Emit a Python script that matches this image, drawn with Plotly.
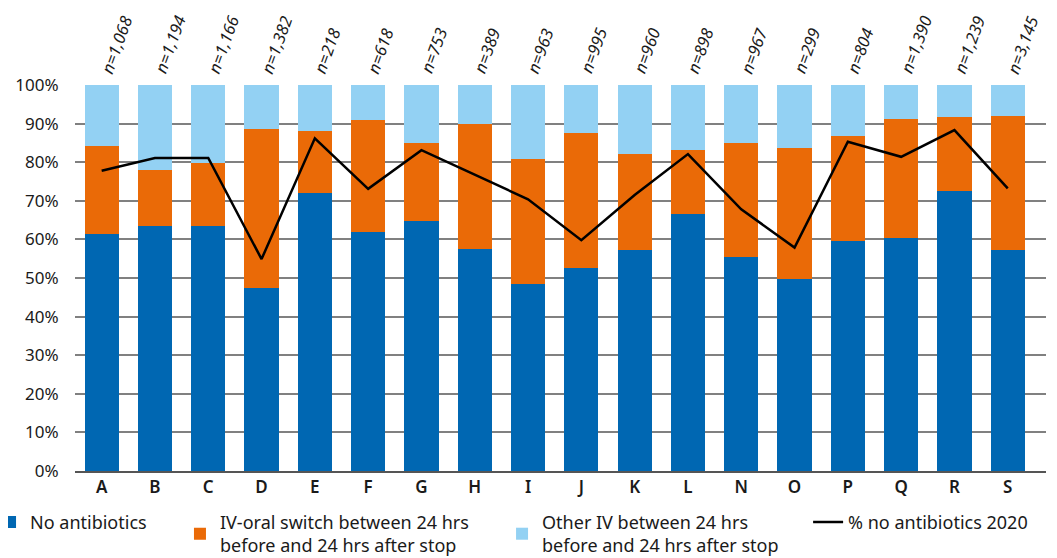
import plotly.graph_objects as go

categories = ["A", "B", "C", "D", "E", "F", "G", "H", "I", "J", "K", "L", "N", "O", "P", "Q", "R", "S"]
n_labels = ["n=1,068", "n=1,194", "n=1,166", "n=1,382", "n=218", "n=618", "n=753", "n=389", "n=963",
            "n=995", "n=960", "n=898", "n=967", "n=299", "n=804", "n=1,390", "n=1,239", "n=3,145"]
no_antibiotics = [61.4, 63.5, 63.5, 47.5, 72.1, 62.0, 64.8, 57.6, 48.4, 52.6, 57.3, 66.6, 55.4, 49.7, 59.6, 60.4, 72.5, 57.3]
iv_oral_switch = [22.8, 14.5, 16.3, 41.2, 16.0, 29.0, 20.2, 32.4, 32.4, 35.0, 24.8, 16.6, 29.6, 34.0, 27.2, 30.9, 19.3, 34.7]
other_iv = [15.8, 22.0, 20.2, 11.3, 11.9, 9.0, 15.0, 10.0, 19.2, 12.4, 17.9, 16.8, 15.0, 16.3, 13.2, 8.7, 8.2, 8.0]
no_abx_2020 = [77.8, 81.1, 81.1, 54.9, 86.2, 73.1, 83.1, 76.7, 70.4, 59.8, 71.5, 82.1, 67.8, 57.9, 85.3, 81.4, 88.3, 73.2]
y_ticks = [0, 10, 20, 30, 40, 50, 60, 70, 80, 90, 100]
y_tick_text = ["0%", "10%", "20%", "30%", "40%", "50%", "60%", "70%", "80%", "90%", "100%"]

FONT = "Noto Sans"
TXT = "#1a1a1a"

fig = go.Figure()
fig.add_trace(go.Bar(x=categories, y=no_antibiotics, name="No antibiotics", legend="legend",
                     marker=dict(color="#0067b2", line=dict(width=0))))
fig.add_trace(go.Bar(x=categories, y=iv_oral_switch, legend="legend2",
                     name="IV-oral switch between 24 hrs<br>before and 24 hrs after stop",
                     marker=dict(color="#ea6a07", line=dict(width=0))))
fig.add_trace(go.Bar(x=categories, y=other_iv, legend="legend3",
                     name="Other IV between 24 hrs<br>before and 24 hrs after stop",
                     marker=dict(color="#93d1f3", line=dict(width=0))))
fig.add_trace(go.Scatter(x=categories, y=no_abx_2020, mode="lines", name="% no antibiotics 2020",
                         legend="legend4", line=dict(color="black", width=2.5)))

for c, lab in zip(categories, n_labels):
    fig.add_annotation(x=c, y=1, xref="x", yref="paper", text=lab, showarrow=False,
                       textangle=-70, xanchor="left", yanchor="bottom", xshift=-9, yshift=6,
                       font=dict(family=FONT, size=16.5, color=TXT, style="italic"))

def leg(xpos):
    return dict(orientation="h", x=xpos, xanchor="left", y=-0.085, yanchor="top",
                font=dict(size=18, family=FONT, color=TXT), bgcolor="rgba(0,0,0,0)")

fig.update_layout(
    barmode="stack",
    bargap=0.36,
    width=1049, height=550,
    margin=dict(l=67, r=11, t=77, b=87, autoexpand=False),
    plot_bgcolor="white", paper_bgcolor="white",
    font=dict(family=FONT, color=TXT),
    showlegend=True,
    legend=leg(-0.0875),
    legend2=leg(0.1081),
    legend3=leg(0.4398),
    legend4=leg(0.755),
    xaxis=dict(tickfont=dict(size=17, family=FONT, color=TXT, weight=600),
               showline=True, linecolor="#555", linewidth=1.5, ticks="", showgrid=False),
    yaxis=dict(range=[0, 100], tickmode="array", tickvals=y_ticks, ticktext=y_tick_text,
               tickfont=dict(size=17, family=FONT, color=TXT),
               showgrid=True, gridcolor="#808080", gridwidth=1.5, zeroline=False,
               ticks="outside", ticklen=12, tickcolor="white"),
)

fig.write_html("out.html")
